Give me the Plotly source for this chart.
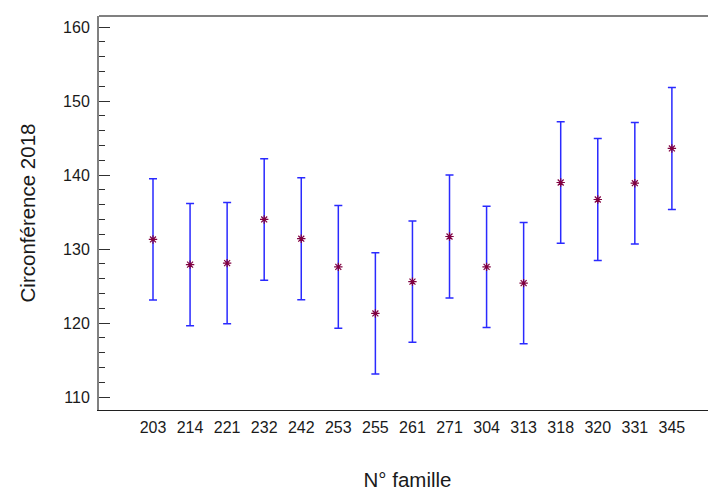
import plotly.graph_objects as go

familles = ["203", "214", "221", "232", "242", "253", "255", "261", "271", "304", "313", "318", "320", "331", "345"]
moyennes = [131.3, 127.9, 128.1, 134.0, 131.4, 127.6, 121.3, 125.6, 131.7, 127.6, 125.4, 139.0, 136.7, 138.9, 143.6]
erreurs = [8.2, 8.25, 8.2, 8.2, 8.25, 8.3, 8.2, 8.2, 8.3, 8.2, 8.2, 8.2, 8.25, 8.2, 8.25]

fig = go.Figure()
fig.add_trace(go.Scatter(
    x=familles, y=moyennes,
    mode="markers",
    marker=dict(symbol="asterisk-open", size=7, color="#800040",
                line=dict(color="#800040", width=1.2)),
    error_y=dict(type="data", array=erreurs, visible=True,
                 color="#2a2aff", thickness=1.5, width=4),
    showlegend=False,
))

font_main = "Liberation Sans, Arial, sans-serif"

# page body has an 8px margin: figure sized so that it fills the 716x491 window
fig.update_layout(
    width=708, height=483,
    margin=dict(l=91, r=0, t=8, b=81, autoexpand=False),
    paper_bgcolor="white", plot_bgcolor="white",
    font=dict(family=font_main, size=16, color="#1a1a1a"),
    xaxis=dict(
        type="category", range=[-1.457, 15.19],
        automargin=False,
        showgrid=False, zeroline=False,
        showline=True, linecolor="#202020", linewidth=1,
        ticks="", ticklabelstandoff=3,
        title=dict(text="N° famille", font=dict(size=20.5, color="#1a1a1a"), standoff=39),
    ),
    yaxis=dict(
        range=[108.25, 161.5],
        automargin=False,
        showgrid=False, zeroline=False,
        showline=True, linecolor="#808080", linewidth=2,
        tickvals=[110, 120, 130, 140, 150, 160],
        ticks="inside", ticklen=11, tickcolor="#303030", tickwidth=1,
        minor=dict(dtick=2, ticks="inside", ticklen=6, tickcolor="#303030", tickwidth=1),
        ticklabelstandoff=4,
        title=dict(text="Circonférence 2018", font=dict(size=20.5, color="#1a1a1a"), standoff=22),
    ),
    yaxis2=dict(
        overlaying="y", matches="y", side="right",
        automargin=False,
        showgrid=False, zeroline=False, showline=False,
        tickvals=[110, 120, 130, 140, 150, 160],
        ticks="inside", ticklen=3, tickcolor="#303030",
        showticklabels=False,
    ),
    shapes=[dict(type="line", xref="paper", yref="paper", x0=0, x1=1, y0=1, y1=1,
                 line=dict(color="#808080", width=2))],
)

fig.write_html("out.html")
